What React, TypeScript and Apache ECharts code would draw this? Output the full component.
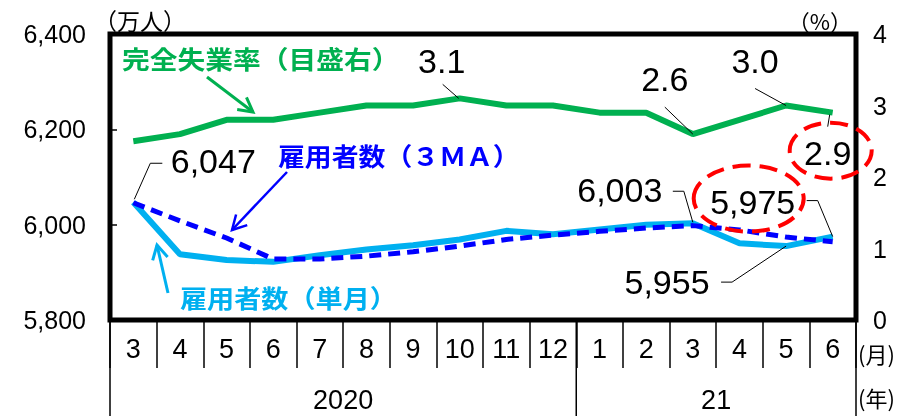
import React, { useEffect, useRef } from 'react';
import * as echarts from 'echarts';

const months = ['3', '4', '5', '6', '7', '8', '9', '10', '11', '12', '1', '2', '3', '4', '5', '6'];
const yearGroups = [
  { label: '2020', start: 0, end: 9 },
  { label: '21', start: 10, end: 15 },
];
const employeesMonthly = [6047, 5938, 5926, 5922, 5936, 5948, 5957, 5969, 5987, 5980, 5990, 6000, 6003, 5961, 5955, 5975];
const employees3MA = [6046, 6008, 5972, 5928, 5928, 5934, 5943, 5955, 5969, 5978, 5986, 5993, 5998, 5989, 5974, 5964];
const unemploymentRate = [2.5, 2.6, 2.8, 2.8, 2.9, 3.0, 3.0, 3.1, 3.0, 3.0, 2.9, 2.9, 2.6, 2.8, 3.0, 2.9];
const leftAxis = { min: 5800, max: 6400, interval: 200 };
const rightAxis = { min: 0, max: 4, interval: 1 };

const NARROW = "'Liberation Sans Narrow', 'Liberation Sans', sans-serif";
const CJK = "'Noto Sans CJK JP', sans-serif";
const GREEN = '#00B050';
const CYAN = '#00B0F0';
const BLUE = '#0000FF';
const RED = '#FF0000';

function txt(x: number, y: number, text: string, o: any = {}) {
  const align = o.align || 'center';
  return {
    type: 'text',
    x,
    y,
    scaleX: o.scaleX || 1,
    z: 10,
    style: {
      text,
      x: 0,
      y: 0,
      fill: o.color || '#000',
      fontSize: o.fontSize || 34,
      fontFamily: o.family || NARROW,
      fontWeight: o.bold ? 'bold' : 'normal',
      align,
      textAlign: align,
      verticalAlign: 'middle',
      textVerticalAlign: 'middle',
    },
  };
}

function line(x1: number, y1: number, x2: number, y2: number, color = '#000', width = 1) {
  return {
    type: 'line',
    z: 10,
    shape: { x1, y1, x2, y2 },
    style: { stroke: color, lineWidth: width },
  };
}

function poly(points: number[][], color = '#000', width = 1) {
  return {
    type: 'polyline',
    z: 10,
    shape: { points },
    style: { stroke: color, lineWidth: width, fill: null },
  };
}

function arrow(x1: number, y1: number, x2: number, y2: number, color: string, width: number) {
  const ang = Math.atan2(y2 - y1, x2 - x1);
  const len = 16;
  const spread = 0.5;
  const a1 = [x2 - len * Math.cos(ang - spread), y2 - len * Math.sin(ang - spread)];
  const a2 = [x2 - len * Math.cos(ang + spread), y2 - len * Math.sin(ang + spread)];
  return [line(x1, y1, x2, y2, color, width), poly([a1, [x2, y2], a2], color, width)];
}

function ellipse(cx: number, cy: number, rx: number, ry: number) {
  return {
    type: 'ellipse',
    z: 11,
    shape: { cx, cy, rx, ry },
    style: { fill: null, stroke: RED, lineWidth: 4, lineDash: [18, 9] },
  };
}

const fmtThousands = (v: number) => v.toLocaleString('en-US');

export default function App() {
  const ref = useRef<HTMLDivElement>(null);
  useEffect(() => {
    const chart = echarts.init(ref.current!, null, { renderer: 'svg' });
    chart.setOption({
      animation: false,
      grid: {
        left: 110,
        right: 54,
        top: 34,
        bottom: 96,
        show: true,
        borderColor: '#000',
        borderWidth: 5,
        backgroundColor: 'transparent',
      },
      xAxis: {
        type: 'category',
        data: months,
        boundaryGap: true,
        axisLine: { show: true, lineStyle: { color: '#000', width: 1 } },
        axisTick: { show: true, interval: 0, length: 48, lineStyle: { color: '#000', width: 1.5 } },
        axisLabel: { interval: 0, fontSize: 27, fontFamily: NARROW, color: '#000', margin: 15 },
        splitLine: { show: false },
      },
      yAxis: [
        {
          type: 'value',
          ...leftAxis,
          name: '（万人）',
          nameLocation: 'end',
          nameGap: 3,
          nameTextStyle: { fontSize: 23, color: '#000', fontFamily: CJK, align: 'left', padding: [0, 0, 0, -16] },
          axisLine: { show: false },
          axisTick: { show: true, inside: true, length: 7, lineStyle: { color: '#000', width: 1.5 } },
          splitLine: { show: false },
          axisLabel: { fontSize: 25, fontFamily: NARROW, color: '#000', margin: 24, formatter: fmtThousands },
        },
        {
          type: 'value',
          position: 'right',
          ...rightAxis,
          name: '（%）',
          nameLocation: 'end',
          nameGap: 3,
          nameTextStyle: { fontSize: 22, color: '#000', fontFamily: CJK, align: 'right', padding: [0, 4, 0, 0] },
          axisLine: { show: false },
          axisTick: { show: false },
          splitLine: { show: false },
          axisLabel: { fontSize: 25, fontFamily: NARROW, color: '#000', margin: 17 },
        },
      ],
      series: [
        {
          name: '完全失業率（目盛右）',
          type: 'line',
          yAxisIndex: 1,
          data: unemploymentRate,
          symbol: 'none',
          lineStyle: { color: GREEN, width: 6 },
          z: 3,
        },
        {
          name: '雇用者数（単月）',
          type: 'line',
          yAxisIndex: 0,
          data: employeesMonthly,
          symbol: 'none',
          lineStyle: { color: CYAN, width: 6 },
          z: 3,
        },
        {
          name: '雇用者数（３ＭＡ）',
          type: 'line',
          yAxisIndex: 0,
          data: employees3MA,
          symbol: 'none',
          lineStyle: { color: BLUE, width: 5, type: [12, 7] },
          z: 4,
        },
      ],
    });

    const seriesData = [unemploymentRate, employeesMonthly, employees3MA];
    const P = (s: number, i: number) => chart.convertToPixel({ seriesIndex: s }, [i, seriesData[s][i]]) as number[];
    const cx = (i: number) => chart.convertToPixel({ xAxisIndex: 0 }, i) as number;
    const band = cx(1) - cx(0);
    const boundary = (i: number) => cx(0) - band / 2 + band * i;
    const bottomY = chart.convertToPixel({ yAxisIndex: 0 }, leftAxis.min) as number;
    const H = 416;

    const g: any[] = [];
    // year separators and labels
    const bounds = [0, 10, 16];
    bounds.forEach((b) => g.push(line(boundary(b), bottomY, boundary(b), H, '#000', 1.5)));
    yearGroups.forEach((yg) => {
      const xm = (boundary(yg.start) + boundary(yg.end + 1)) / 2;
      g.push(txt(xm, bottomY + 80, yg.label, { fontSize: 27 }));
    });
    const rb = boundary(16);
    g.push(txt(rb + 2, bottomY + 33, '(月)', { fontSize: 22, family: CJK, align: 'left' }));
    g.push(txt(rb + 2, bottomY + 77, '(年)', { fontSize: 22, family: CJK, align: 'left' }));

    // series titles
    g.push(txt(122, 58, '完全失業率（目盛右）', { fontSize: 25, family: CJK, bold: true, color: GREEN, align: 'left', scaleX: 1.11 }));
    g.push(txt(278, 155, '雇用者数（３ＭＡ）', { fontSize: 25, family: CJK, bold: true, color: BLUE, align: 'left', scaleX: 1.075 }));
    g.push(txt(180, 297, '雇用者数（単月）', { fontSize: 25, family: CJK, bold: true, color: CYAN, align: 'left', scaleX: 1.085 }));
    g.push(...arrow(207, 77, 253, 112, GREEN, 3));
    g.push(...arrow(287, 172, 232, 230, BLUE, 2.5));
    g.push(...arrow(168, 293, 157, 245, CYAN, 3));

    // rate labels
    const rateNotes = [
      { idx: 7, t: [-18, -37], l: [[-17, -14], [-1, 0]] },
      { idx: 12, t: [-28, -55], l: [[-28, -27], [0, 0]] },
      { idx: 14, t: [-31, -45], l: [[-31, -17], [0, 0]] },
      { idx: 15, t: [-5, 40], l: [[-3, 2], [-5, 14]] },
    ];
    rateNotes.forEach((n) => {
      const [x, y] = P(0, n.idx);
      g.push(txt(x + n.t[0], y + n.t[1], unemploymentRate[n.idx].toFixed(1)));
      g.push(poly(n.l.map((p) => [x + p[0], y + p[1]])));
    });
    {
      const [x, y] = P(0, 15);
      g.push(ellipse(x - 2, y + 38, 41, 28));
    }

    // employee labels
    const empNotes = [
      { idx: 0, t: [80, -41], l: [[29, -39], [17, -39], [1, -3]] },
      { idx: 12, t: [-73, -33], l: [[-20, -32], [-9, -32], [0, -1]] },
      { idx: 14, t: [-119, 36], l: [[-65, 36], [-54, 36], [0, 0]] },
      { idx: 15, t: [-80, -35], l: [[-26, -36], [-15, -36], [0, 0]] },
    ];
    empNotes.forEach((n) => {
      const [x, y] = P(1, n.idx);
      g.push(txt(x + n.t[0], y + n.t[1], fmtThousands(employeesMonthly[n.idx])));
      g.push(poly(n.l.map((p) => [x + p[0], y + p[1]])));
    });
    {
      const [x, y] = P(1, 15);
      g.push(ellipse(x - 84, y - 38, 55, 33));
    }

    chart.setOption({ graphic: g });
    return () => chart.dispose();
  }, []);
  return <div ref={ref} style={{ position: 'fixed', left: 0, top: 0, width: 910, height: 416 }} />;
}
